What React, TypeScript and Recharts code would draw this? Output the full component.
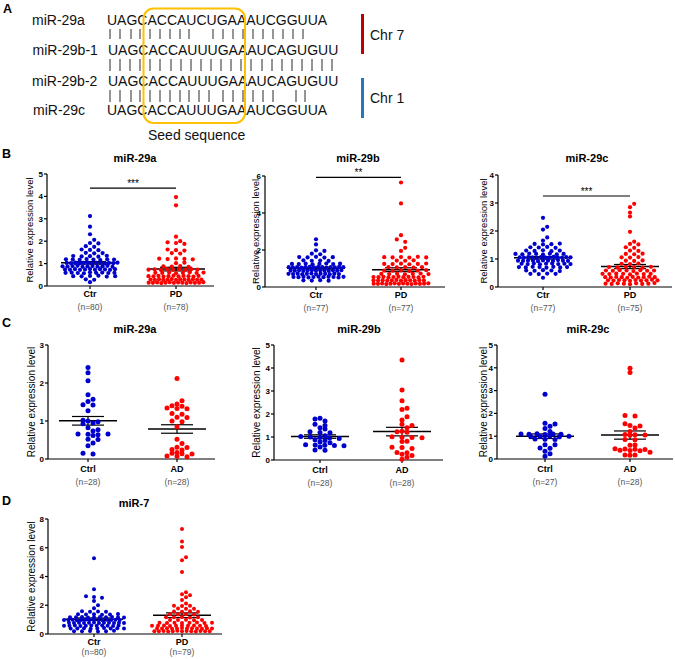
import { ScatterChart, Scatter, XAxis, YAxis, ReferenceLine } from "recharts";

const FONT = "Arial, 'Liberation Sans', Helvetica, sans-serif";
const BLUE = "#0000cc";
const RED = "#ff0000";

// ---- panel A: alignment ----
const seqNames = ["miR-29a", "miR-29b-1", "miR-29b-2", "miR-29c"];
const sequences = [
  "UAGCACCAUCUGAAAUCGGUUA",
  "UAGCACCAUUUGAAAUCAGUGUU",
  "UAGCACCAUUUGAAAUCAGUGUU",
  "UAGCACCAUUUGAAAUCGGUUA",
];
const matchRows = [
  [110, 120, 131, 140, 150, 160, 170, 180, 189, 213, 223, 233, 243, 253, 263, 273, 283, 293, 303],
  [110, 120, 130, 140, 150, 160, 171, 181, 191, 201, 211, 221, 231, 241, 251, 262, 272, 282, 292, 302, 312, 322, 332],
  [110, 120, 131, 140, 150, 160, 170, 180, 189, 199, 209, 223, 233, 243, 253, 263, 273, 296, 305],
];

// ---- B: miR-29 in PD ----
const b29aCtr = [
  3.12, 2.65, 2.31, 2.06,
  1.92, 1.9,
  1.78, 1.75,
  1.63, 1.61, 1.6,
  1.48, 1.46, 1.47,
  1.34, 1.32, 1.33, 1.31, 1.35,
  1.19, 1.18, 1.17, 1.2, 1.18, 1.16, 1.19, 1.18,
  1.03, 1.02, 1.04, 1.01, 1.03, 1.05, 1.02, 1.03, 1.04, 1.01, 1.03, 1.02, 1.04,
  0.88, 0.87, 0.89, 0.9, 0.86, 0.88, 0.89, 0.87, 0.88, 0.9, 0.86,
  0.74, 0.73, 0.75, 0.72, 0.74, 0.76, 0.73, 0.75, 0.74, 0.72, 0.75,
  0.59, 0.6, 0.58, 0.57, 0.61, 0.59, 0.6, 0.58, 0.59,
  0.44, 0.43, 0.45, 0.46, 0.42, 0.44,
  0.3, 0.28,
  0.17,
];
const b29aPd = [
  3.97, 3.6, 2.2, 2.0,
  1.95, 1.92, 1.88,
  1.63, 1.6, 1.58,
  1.47, 1.45,
  1.22, 1.2, 1.23, 1.21, 1.19,
  1.02, 1.04,
  0.88, 0.87, 0.89, 0.86,
  0.73, 0.74, 0.72, 0.75, 0.73, 0.74, 0.72, 0.75, 0.73,
  0.59, 0.58, 0.6, 0.57, 0.59, 0.61, 0.58, 0.6,
  0.44, 0.43, 0.45, 0.42, 0.44, 0.46, 0.43, 0.45, 0.44, 0.42, 0.45,
  0.29, 0.28, 0.3, 0.27, 0.29, 0.31, 0.28, 0.3, 0.29, 0.27, 0.3, 0.28, 0.29,
  0.15, 0.14, 0.16, 0.13, 0.15, 0.17, 0.14, 0.16, 0.15, 0.13, 0.16, 0.14, 0.15, 0.17,
];
const b29bCtr = [
  2.58, 2.3,
  1.98, 1.95,
  1.8, 1.77,
  1.62, 1.6, 1.63, 1.59, 1.61,
  1.44, 1.42, 1.43, 1.41,
  1.25, 1.24, 1.26, 1.23, 1.25, 1.27, 1.24, 1.26,
  1.07, 1.06, 1.08, 1.05, 1.07, 1.09, 1.06, 1.08, 1.07, 1.05, 1.08, 1.06, 1.09, 1.07,
  0.89, 0.88, 0.9, 0.87, 0.89, 0.91, 0.88, 0.9, 0.89, 0.87, 0.9, 0.88, 0.91,
  0.71, 0.7, 0.72, 0.69, 0.71, 0.73, 0.7, 0.72, 0.71, 0.69, 0.72, 0.7,
  0.54, 0.53, 0.55, 0.52, 0.54, 0.56, 0.53, 0.55, 0.54, 0.52, 0.55,
  0.36, 0.35, 0.37, 0.34,
];
const b29bPd = [
  5.65, 4.52, 2.8, 2.57, 2.44, 2.12, 1.95,
  1.61, 1.6, 1.62, 1.59, 1.63, 1.6,
  1.43, 1.42, 1.44,
  1.25, 1.24, 1.26, 1.23, 1.25, 1.27,
  1.07, 1.06, 1.08, 1.05, 1.07,
  0.89, 0.88, 0.9, 0.87, 0.89, 0.91,
  0.71, 0.7, 0.72, 0.69, 0.71, 0.73, 0.7,
  0.54, 0.53, 0.55, 0.52, 0.54, 0.56, 0.53, 0.55, 0.54, 0.52, 0.55,
  0.36, 0.35, 0.37, 0.34, 0.36, 0.38, 0.35, 0.37, 0.36, 0.34, 0.37, 0.35,
  0.18, 0.17, 0.19, 0.16, 0.18, 0.2, 0.17, 0.19, 0.18, 0.16, 0.19, 0.17, 0.18, 0.2,
];
const b29cCtr = [
  2.47, 2.15, 2.05,
  1.77, 1.66,
  1.54, 1.52, 1.53, 1.55,
  1.42, 1.41, 1.43, 1.4,
  1.3, 1.29, 1.31, 1.28, 1.3,
  1.18, 1.17, 1.19, 1.18, 1.16, 1.19, 1.17, 1.18,
  1.06, 1.05, 1.07, 1.06, 1.04, 1.07, 1.06, 1.05, 1.08, 1.06, 1.05, 1.07, 1.06,
  0.94, 0.93, 0.95, 0.94, 0.92, 0.95, 0.94, 0.93, 0.96, 0.94, 0.93,
  0.83, 0.82, 0.84, 0.81, 0.83, 0.84, 0.82, 0.83, 0.82,
  0.71, 0.7, 0.72, 0.71, 0.69, 0.72, 0.7, 0.71,
  0.59, 0.58, 0.6, 0.59, 0.57,
  0.47, 0.46, 0.48, 0.47,
  0.33,
];
const b29cPd = [
  2.97, 2.85, 2.66, 2.52, 1.97,
  1.62,
  1.54, 1.52,
  1.42, 1.4,
  1.3, 1.29,
  1.18, 1.17, 1.19,
  1.06, 1.05, 1.07,
  0.94, 0.93, 0.95,
  0.83, 0.82, 0.84,
  0.71, 0.7, 0.72, 0.71, 0.69, 0.72,
  0.59, 0.58, 0.6, 0.59, 0.57, 0.6, 0.58, 0.59,
  0.47, 0.46, 0.48, 0.47, 0.45, 0.48, 0.46, 0.47,
  0.35, 0.34, 0.36, 0.35, 0.33, 0.36, 0.34, 0.35, 0.37, 0.35,
  0.24, 0.23, 0.25, 0.24, 0.22, 0.25, 0.23, 0.24, 0.26, 0.24,
  0.12, 0.11, 0.13, 0.12, 0.1, 0.13, 0.11, 0.12, 0.14,
];

// ---- C: miR-29 in AD ----
const c29aCtrl = [2.41, 2.27, 2.06, 1.69, 1.57, 1.51, 1.43, 1.42, 1.27, 1.02, 1.0, 0.98, 0.93, 0.82, 0.77, 0.74, 0.66, 0.65, 0.64, 0.66, 0.62, 0.52, 0.51, 0.42, 0.35, 0.15, 0.13, 0.95];
const c29aAd = [2.12, 1.53, 1.45, 1.4, 1.39, 1.34, 1.33, 1.32, 1.2, 1.18, 1.1, 1.09, 1.0, 0.98, 0.85, 0.52, 0.41, 0.31, 0.3, 0.25, 0.24, 0.15, 0.14, 0.13, 0.08, 0.07, 0.06, 0.17];
const c29bCtrl = [1.82, 1.78, 1.7, 1.55, 1.5, 1.4, 1.35, 1.23, 1.2, 1.18, 1.05, 1.02, 1.0, 0.98, 0.96, 0.93, 0.88, 0.85, 0.78, 0.75, 0.66, 0.65, 0.64, 0.63, 0.62, 0.56, 0.44, 0.42];
const c29bAd = [4.35, 3.04, 2.58, 2.25, 2.2, 1.88, 1.74, 1.55, 1.5, 1.4, 1.25, 1.23, 1.21, 1.01, 0.99, 0.98, 0.97, 0.82, 0.8, 0.55, 0.54, 0.5, 0.33, 0.31, 0.25, 0.2, 0.12, 0.03];
const c29cCtrl = [2.84, 1.57, 1.53, 1.44, 1.34, 1.21, 1.1, 1.09, 1.11, 1.08, 1.1, 1.09, 1.0, 0.99, 1.01, 0.98, 1.0, 0.88, 0.87, 0.86, 0.63, 0.62, 0.48, 0.47, 0.34, 0.23, 0.12];
const c29cAd = [3.98, 3.79, 1.91, 1.89, 1.55, 1.47, 1.45, 1.36, 1.21, 1.07, 1.06, 1.05, 1.04, 0.86, 0.84, 0.61, 0.6, 0.45, 0.44, 0.43, 0.42, 0.38, 0.37, 0.36, 0.3, 0.18, 0.17, 0.16];

// ---- D: miR-7 in PD ----
const d7Ctr = [
  5.27, 3.11,
  2.62, 2.58, 2.52,
  2.3,
  2.0,
  1.8,
  1.58, 1.55, 1.57, 1.54,
  1.37, 1.35, 1.38, 1.34, 1.36, 1.39,
  1.17, 1.16, 1.18, 1.15, 1.17, 1.19, 1.16, 1.18, 1.17, 1.15,
  0.98, 0.97, 0.99, 0.96, 0.98, 1.0, 0.97, 0.99, 0.98, 0.96, 0.99, 0.97, 1.0, 0.98,
  0.78, 0.77, 0.79, 0.76, 0.78, 0.8, 0.77, 0.79, 0.78, 0.76, 0.79, 0.77,
  0.58, 0.57, 0.59, 0.56, 0.58, 0.6, 0.57, 0.59, 0.58, 0.56, 0.59,
  0.39, 0.38, 0.4, 0.37, 0.39, 0.41, 0.38, 0.4, 0.39,
  0.2, 0.19, 0.21, 0.18, 0.2, 0.22,
];
const d7Pd = [
  7.31, 6.43, 6.06, 5.34, 5.13, 4.32,
  2.9, 2.76, 2.7, 2.55, 2.37, 2.12,
  1.97, 1.94, 1.96,
  1.77, 1.75, 1.76,
  1.57, 1.55, 1.58, 1.54,
  1.37, 1.35, 1.38, 1.36,
  1.17, 1.16, 1.18, 1.15, 1.17,
  0.98, 0.97, 0.99, 0.96, 0.98,
  0.78, 0.77, 0.79, 0.76, 0.78, 0.8, 0.77, 0.79,
  0.58, 0.57, 0.59, 0.56, 0.58, 0.6, 0.57, 0.59, 0.58, 0.56,
  0.39, 0.38, 0.4, 0.37, 0.39, 0.41, 0.38, 0.4, 0.39, 0.37, 0.4, 0.38,
  0.2, 0.19, 0.21, 0.18, 0.2, 0.22, 0.19, 0.21, 0.2, 0.18, 0.21, 0.19, 0.2,
];

const pdGroups = ["Ctr", "PD"];
const adGroups = ["Ctrl", "AD"];

type Spec = {
  axisX: number; axisEnd: number; top: number; bottom: number;
  c1: number; c2: number; yMax: number; yTicks: number[];
  labelOff: number; labelSize: number; dotR: number; labelDy: number; nDy: number;
  pitchY: number; pitchX: number; rowW: number;
  groups: string[]; ns: string[]; data: number[][];
  sig?: { y: number; text: string };
};

const styleB = { pitchY: 3.3, pitchX: 4.2, rowW: 55, dotR: 2.1, labelSize: 9.5, labelDy: 8, nDy: 21 };
const styleC = { pitchY: 2.5, pitchX: 5, rowW: 48, dotR: 2.5, labelSize: 10, labelDy: 10, nDy: 23 };
const styleD = { pitchY: 2.8, pitchX: 4.0, rowW: 60, dotR: 2.0, labelSize: 10, labelDy: 8, nDy: 18 };

const panels: Spec[] = [
  { ...styleB, axisX: 47, axisEnd: 214, top: 174, bottom: 286, c1: 90, c2: 176, yMax: 5, yTicks: [0, 1, 2, 3, 4, 5], labelOff: 17, groups: pdGroups, ns: ["(n=80)", "(n=78)"], data: [b29aCtr, b29aPd], sig: { y: 4.37, text: "***" } },
  { ...styleB, axisX: 265, axisEnd: 445, top: 176, bottom: 287, c1: 316, c2: 401, yMax: 6, yTicks: [0, 2, 4, 6], labelOff: 9, groups: pdGroups, ns: ["(n=77)", "(n=77)"], data: [b29bCtr, b29bPd], sig: { y: 5.93, text: "**" } },
  { ...styleB, axisX: 498, axisEnd: 672, top: 175, bottom: 287, c1: 543, c2: 630, yMax: 4, yTicks: [0, 1, 2, 3, 4], labelOff: 14, groups: pdGroups, ns: ["(n=77)", "(n=75)"], data: [b29cCtr, b29cPd], sig: { y: 3.25, text: "***" } },
  { ...styleC, axisX: 48, axisEnd: 215, top: 345, bottom: 459, c1: 88, c2: 177, yMax: 3, yTicks: [0, 1, 2, 3], labelOff: 17, groups: adGroups, ns: ["(n=28)", "(n=28)"], data: [c29aCtrl, c29aAd] },
  { ...styleC, axisX: 274, axisEnd: 443, top: 345, bottom: 460, c1: 320, c2: 402, yMax: 5, yTicks: [0, 1, 2, 3, 4, 5], labelOff: 18, groups: adGroups, ns: ["(n=28)", "(n=28)"], data: [c29bCtrl, c29bAd] },
  { ...styleC, axisX: 497, axisEnd: 673, top: 345, bottom: 459, c1: 545, c2: 630, yMax: 5, yTicks: [0, 1, 2, 3, 4, 5], labelOff: 14, groups: adGroups, ns: ["(n=27)", "(n=28)"], data: [c29cCtrl, c29cAd] },
  { ...styleD, axisX: 48, axisEnd: 222, top: 519, bottom: 634, c1: 94, c2: 182, yMax: 8, yTicks: [0, 2, 4, 6, 8], labelOff: 17, groups: pdGroups, ns: ["(n=80)", "(n=79)"], data: [d7Ctr, d7Pd] },
];

const titles = [
  { x: 135, y: 162, t: "miR-29a" }, { x: 358, y: 162, t: "miR-29b" }, { x: 587, y: 162, t: "miR-29c" },
  { x: 135, y: 333, t: "miR-29a" }, { x: 359, y: 333, t: "miR-29b" }, { x: 588, y: 333, t: "miR-29c" },
  { x: 134, y: 507, t: "miR-7" },
];
const letters = [
  { x: 3, y: 13, t: "A" }, { x: 2, y: 158, t: "B" }, { x: 2, y: 327, t: "C" }, { x: 2, y: 505, t: "D" },
];

// GraphPad-like layout: values that fall in one pixel row sit side by side,
// sparse rows are spread wider, neighbouring rows are shifted to interleave
function rowsLayout(values: number[], center: number, pxX: number, pxY: number, pitchY: number, h: number, rowW: number, diam: number) {
  const bins = new Map<number, number[]>();
  values.forEach((v) => {
    const k = Math.round((v * pxY) / pitchY);
    if (!bins.has(k)) bins.set(k, []);
    bins.get(k)!.push(v);
  });
  const keys = [...bins.keys()].sort((a, b) => a - b);
  const placed: { px: number; py: number }[] = [];
  const out: { x: number; y: number }[] = [];
  for (const k of keys) {
    const vs = bins.get(k)!;
    const n = vs.length;
    const s = Math.min(2 * h, Math.max(h, rowW / n));
    let bestXs: number[] = [];
    let bestCost = Infinity;
    for (const shift of [0, s / 2, -s / 2]) {
      const xs = vs.map((_, j) => (j - (n - 1) / 2) * s + shift);
      let cost = Math.abs(shift) * 0.05;
      xs.forEach((x, j) => {
        const py = vs[j] * pxY;
        for (const p of placed) {
          const d = Math.hypot(p.px - x, p.py - py);
          if (d < diam) cost += diam - d;
        }
      });
      if (cost < bestCost) {
        bestCost = cost;
        bestXs = xs;
      }
    }
    vs.forEach((v, j) => {
      placed.push({ px: bestXs[j], py: v * pxY });
      out.push({ x: center + bestXs[j] / pxX, y: v });
    });
  }
  return out;
}

function meanSem(vals: number[]) {
  const n = vals.length;
  const m = vals.reduce((a, b) => a + b, 0) / n;
  const sd = Math.sqrt(vals.reduce((a, b) => a + (b - m) ** 2, 0) / (n - 1));
  return { m, sem: sd / Math.sqrt(n) };
}

function DotPanel({ s }: { s: Spec }) {
  const ml = 4, mr = 4, mt = 8, xh = 34;
  const yw = s.labelOff * 2;
  const left = s.axisX - yw - ml;
  const top = s.top - mt;
  const width = s.axisEnd - s.axisX + yw + ml + mr;
  const height = s.bottom - s.top + mt + xh;
  const pxX = s.c2 - s.c1;
  const pxY = (s.bottom - s.top) / s.yMax;
  const xMin = 1 - (s.c1 - s.axisX) / pxX;
  const xMax = 2 + (s.axisEnd - s.c2) / pxX;
  const colors = [BLUE, RED];
  const meanHalf = 29 / pxX;
  const capHalf = 16 / pxX;

  const XTick = (p: any) => {
    const i = Math.round(p.payload.value) - 1;
    return (
      <g>
        <text x={p.x} y={p.y + s.labelDy} textAnchor="middle" fontSize={9} fontWeight="bold" fill="#000" fontFamily={FONT}>
          {s.groups[i]}
        </text>
        <text x={p.x} y={p.y + s.nDy} textAnchor="middle" fontSize={8.5} fill="#555" fontFamily={FONT}>
          {s.ns[i]}
        </text>
      </g>
    );
  };

  return (
    <div style={{ position: "absolute", left, top, width, height }}>
      <ScatterChart width={width} height={height} margin={{ top: mt, right: mr, bottom: 0, left: ml }}>
        <XAxis
          type="number"
          dataKey="x"
          domain={[xMin, xMax]}
          ticks={[1, 2]}
          height={xh}
          tick={XTick}
          tickSize={3}
          tickMargin={0}
          stroke="#000"
          axisLine={{ stroke: "#000", strokeWidth: 1.2 }}
          tickLine={{ stroke: "#000", strokeWidth: 1.2 }}
        />
        <YAxis
          type="number"
          dataKey="y"
          domain={[0, s.yMax]}
          ticks={s.yTicks}
          width={yw}
          tickSize={3}
          tickMargin={1}
          interval={0}
          stroke="#000"
          axisLine={{ stroke: "#000", strokeWidth: 1.2 }}
          tickLine={{ stroke: "#000", strokeWidth: 1.2 }}
          tick={{ fontSize: 8, fontWeight: "bold", fill: "#000", fontFamily: FONT }}
          label={{ value: "Relative expression level", angle: -90, position: "center", fontSize: s.labelSize, fill: "#000", fontFamily: FONT }}
        />
        {s.data.map((vals, gi) => (
          <Scatter
            key={gi}
            data={rowsLayout(vals, gi + 1, pxX, pxY, s.pitchY, s.pitchX, s.rowW, s.dotR * 2 * 0.9)}
            isAnimationActive={false}
            shape={(p: any) => <circle cx={p.cx} cy={p.cy} r={s.dotR} fill={colors[gi]} />}
          />
        ))}
        {s.data.map((vals, gi) => {
          const { m, sem } = meanSem(vals);
          const c = gi + 1;
          return [
            <ReferenceLine key={`m${gi}`} segment={[{ x: c - meanHalf, y: m }, { x: c + meanHalf, y: m }]} stroke="#000" strokeWidth={1.5} />,
            <ReferenceLine key={`v${gi}`} segment={[{ x: c, y: m - sem }, { x: c, y: m + sem }]} stroke="#000" strokeWidth={1.2} />,
            <ReferenceLine key={`u${gi}`} segment={[{ x: c - capHalf, y: m + sem }, { x: c + capHalf, y: m + sem }]} stroke="#000" strokeWidth={1.2} />,
            <ReferenceLine key={`l${gi}`} segment={[{ x: c - capHalf, y: m - sem }, { x: c + capHalf, y: m - sem }]} stroke="#000" strokeWidth={1.2} />,
          ];
        })}
        {s.sig && (
          <ReferenceLine
            segment={[{ x: 1, y: s.sig.y }, { x: 2, y: s.sig.y }]}
            stroke="#000"
            strokeWidth={1.2}
            label={{ value: s.sig.text, position: "top", offset: 1, fontSize: 10, fill: "#000", fontFamily: FONT }}
          />
        )}
      </ScatterChart>
    </div>
  );
}

export default function App() {
  const seqX = [107, 108, 108, 107];
  const labelX = [32, 32.5, 32, 33];
  const baseY = [25, 55, 86, 115];
  const barY = [[29, 39], [59, 71], [90, 102]];
  return (
    <div style={{ position: "absolute", left: 0, top: 0, width: 675, height: 659, background: "#fff", fontFamily: FONT }}>
      <svg width={675} height={659} style={{ position: "absolute", left: 0, top: 0 }}>
        {letters.map((l) => (
          <text key={l.t} x={l.x} y={l.y} fontSize={12.5} fontWeight="bold" fontFamily={FONT} fill="#000">{l.t}</text>
        ))}
        {titles.map((t, i) => (
          <text key={i} x={t.x} y={t.y} textAnchor="middle" fontSize={11} fontWeight="bold" fontFamily={FONT} fill="#000">{t.t}</text>
        ))}
        {seqNames.map((n, i) => (
          <g key={n}>
            <text x={labelX[i]} y={baseY[i]} fontSize={14} fontFamily={FONT} fill="#111">{n}</text>
            <text x={seqX[i]} y={baseY[i]} fontSize={14} fontFamily={FONT} fill="#111">{sequences[i]}</text>
          </g>
        ))}
        {matchRows.map((row, ri) =>
          row.map((x, j) => (
            <line key={`${ri}-${j}`} x1={x} x2={x} y1={barY[ri][0]} y2={barY[ri][1]} stroke="#2a2a2a" strokeWidth={1} />
          ))
        )}
        <rect x={143.5} y={8.5} width={101.5} height={114.5} rx={10} fill="none" stroke="#FFC000" strokeWidth={2} />
        <text x={148} y={140} fontSize={14} fontFamily={FONT} fill="#111">Seed sequence</text>
        <rect x={361} y={14} width={3} height={40} fill="#C00000" />
        <rect x={361} y={78} width={3} height={40} fill="#1F77C8" />
        <text x={370} y={40} fontSize={14} fontFamily={FONT} fill="#111">Chr 7</text>
        <text x={370} y={103} fontSize={14} fontFamily={FONT} fill="#111">Chr 1</text>
      </svg>
      {panels.map((s, i) => (
        <DotPanel key={i} s={s} />
      ))}
    </div>
  );
}
